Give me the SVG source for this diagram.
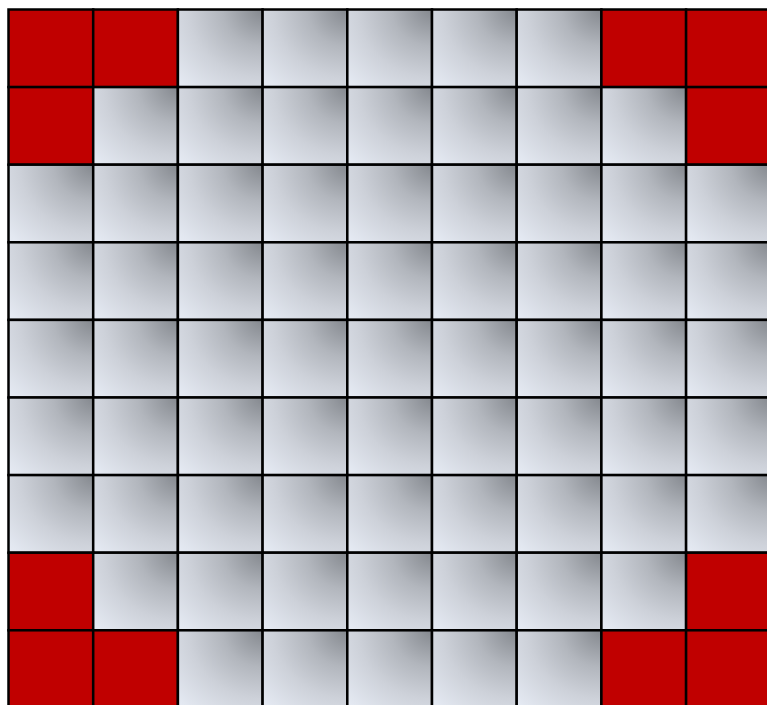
<svg xmlns="http://www.w3.org/2000/svg" width="767" height="705" viewBox="0 0 767 705">
<defs>
<radialGradient id="g" cx="1" cy="0" r="1.35" fx="1" fy="0">
<stop offset="0" stop-color="#84888e"/>
<stop offset="0.35" stop-color="#b2b6bd"/>
<stop offset="0.65" stop-color="#cdd1d9"/>
<stop offset="1" stop-color="#e4e9f2"/>
</radialGradient>
</defs>
<style>
.c{fill:url(#g);stroke:#000;stroke-width:2.5}
.r{fill:#c00000;stroke:#000;stroke-width:2.5}
</style>
<rect width="767" height="705" fill="#fff"/>
<g id="grid">
<g id="row0">
<rect class="r" x="8.5" y="9.5" width="84.7" height="77.6"/>
<rect class="r" x="93.2" y="9.5" width="84.7" height="77.6"/>
<rect class="c" x="177.9" y="9.5" width="84.7" height="77.6"/>
<rect class="c" x="262.6" y="9.5" width="84.7" height="77.6"/>
<rect class="c" x="347.3" y="9.5" width="84.7" height="77.6"/>
<rect class="c" x="432" y="9.5" width="84.7" height="77.6"/>
<rect class="c" x="516.7" y="9.5" width="84.7" height="77.6"/>
<rect class="r" x="601.4" y="9.5" width="84.7" height="77.6"/>
<rect class="r" x="686.1" y="9.5" width="84.7" height="77.6"/>
</g>
<g id="row1">
<rect class="r" x="8.5" y="87.1" width="84.7" height="77.6"/>
<rect class="c" x="93.2" y="87.1" width="84.7" height="77.6"/>
<rect class="c" x="177.9" y="87.1" width="84.7" height="77.6"/>
<rect class="c" x="262.6" y="87.1" width="84.7" height="77.6"/>
<rect class="c" x="347.3" y="87.1" width="84.7" height="77.6"/>
<rect class="c" x="432" y="87.1" width="84.7" height="77.6"/>
<rect class="c" x="516.7" y="87.1" width="84.7" height="77.6"/>
<rect class="c" x="601.4" y="87.1" width="84.7" height="77.6"/>
<rect class="r" x="686.1" y="87.1" width="84.7" height="77.6"/>
</g>
<g id="row2">
<rect class="c" x="8.5" y="164.7" width="84.7" height="77.6"/>
<rect class="c" x="93.2" y="164.7" width="84.7" height="77.6"/>
<rect class="c" x="177.9" y="164.7" width="84.7" height="77.6"/>
<rect class="c" x="262.6" y="164.7" width="84.7" height="77.6"/>
<rect class="c" x="347.3" y="164.7" width="84.7" height="77.6"/>
<rect class="c" x="432" y="164.7" width="84.7" height="77.6"/>
<rect class="c" x="516.7" y="164.7" width="84.7" height="77.6"/>
<rect class="c" x="601.4" y="164.7" width="84.7" height="77.6"/>
<rect class="c" x="686.1" y="164.7" width="84.7" height="77.6"/>
</g>
<g id="row3">
<rect class="c" x="8.5" y="242.3" width="84.7" height="77.6"/>
<rect class="c" x="93.2" y="242.3" width="84.7" height="77.6"/>
<rect class="c" x="177.9" y="242.3" width="84.7" height="77.6"/>
<rect class="c" x="262.6" y="242.3" width="84.7" height="77.6"/>
<rect class="c" x="347.3" y="242.3" width="84.7" height="77.6"/>
<rect class="c" x="432" y="242.3" width="84.7" height="77.6"/>
<rect class="c" x="516.7" y="242.3" width="84.7" height="77.6"/>
<rect class="c" x="601.4" y="242.3" width="84.7" height="77.6"/>
<rect class="c" x="686.1" y="242.3" width="84.7" height="77.6"/>
</g>
<g id="row4">
<rect class="c" x="8.5" y="319.9" width="84.7" height="77.6"/>
<rect class="c" x="93.2" y="319.9" width="84.7" height="77.6"/>
<rect class="c" x="177.9" y="319.9" width="84.7" height="77.6"/>
<rect class="c" x="262.6" y="319.9" width="84.7" height="77.6"/>
<rect class="c" x="347.3" y="319.9" width="84.7" height="77.6"/>
<rect class="c" x="432" y="319.9" width="84.7" height="77.6"/>
<rect class="c" x="516.7" y="319.9" width="84.7" height="77.6"/>
<rect class="c" x="601.4" y="319.9" width="84.7" height="77.6"/>
<rect class="c" x="686.1" y="319.9" width="84.7" height="77.6"/>
</g>
<g id="row5">
<rect class="c" x="8.5" y="397.5" width="84.7" height="77.6"/>
<rect class="c" x="93.2" y="397.5" width="84.7" height="77.6"/>
<rect class="c" x="177.9" y="397.5" width="84.7" height="77.6"/>
<rect class="c" x="262.6" y="397.5" width="84.7" height="77.6"/>
<rect class="c" x="347.3" y="397.5" width="84.7" height="77.6"/>
<rect class="c" x="432" y="397.5" width="84.7" height="77.6"/>
<rect class="c" x="516.7" y="397.5" width="84.7" height="77.6"/>
<rect class="c" x="601.4" y="397.5" width="84.7" height="77.6"/>
<rect class="c" x="686.1" y="397.5" width="84.7" height="77.6"/>
</g>
<g id="row6">
<rect class="c" x="8.5" y="475.1" width="84.7" height="77.6"/>
<rect class="c" x="93.2" y="475.1" width="84.7" height="77.6"/>
<rect class="c" x="177.9" y="475.1" width="84.7" height="77.6"/>
<rect class="c" x="262.6" y="475.1" width="84.7" height="77.6"/>
<rect class="c" x="347.3" y="475.1" width="84.7" height="77.6"/>
<rect class="c" x="432" y="475.1" width="84.7" height="77.6"/>
<rect class="c" x="516.7" y="475.1" width="84.7" height="77.6"/>
<rect class="c" x="601.4" y="475.1" width="84.7" height="77.6"/>
<rect class="c" x="686.1" y="475.1" width="84.7" height="77.6"/>
</g>
<g id="row7">
<rect class="r" x="8.5" y="552.7" width="84.7" height="77.6"/>
<rect class="c" x="93.2" y="552.7" width="84.7" height="77.6"/>
<rect class="c" x="177.9" y="552.7" width="84.7" height="77.6"/>
<rect class="c" x="262.6" y="552.7" width="84.7" height="77.6"/>
<rect class="c" x="347.3" y="552.7" width="84.7" height="77.6"/>
<rect class="c" x="432" y="552.7" width="84.7" height="77.6"/>
<rect class="c" x="516.7" y="552.7" width="84.7" height="77.6"/>
<rect class="c" x="601.4" y="552.7" width="84.7" height="77.6"/>
<rect class="r" x="686.1" y="552.7" width="84.7" height="77.6"/>
</g>
<g id="row8">
<rect class="r" x="8.5" y="630.3" width="84.7" height="77.6"/>
<rect class="r" x="93.2" y="630.3" width="84.7" height="77.6"/>
<rect class="c" x="177.9" y="630.3" width="84.7" height="77.6"/>
<rect class="c" x="262.6" y="630.3" width="84.7" height="77.6"/>
<rect class="c" x="347.3" y="630.3" width="84.7" height="77.6"/>
<rect class="c" x="432" y="630.3" width="84.7" height="77.6"/>
<rect class="c" x="516.7" y="630.3" width="84.7" height="77.6"/>
<rect class="r" x="601.4" y="630.3" width="84.7" height="77.6"/>
<rect class="r" x="686.1" y="630.3" width="84.7" height="77.6"/>
</g>
</g>
</svg>
